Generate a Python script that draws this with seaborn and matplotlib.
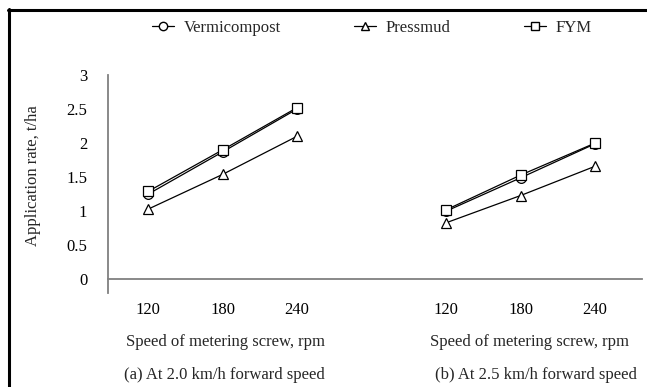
import matplotlib
matplotlib.use("Agg")
import matplotlib.pyplot as plt
import matplotlib.lines as mlines
import seaborn as sns
import pandas as pd

sns.set_theme(style="white")
plt.rcParams['font.family'] = ['Liberation Serif', 'DejaVu Serif']

speeds = ["120", "180", "240"]
materials = ["Vermicompost", "Pressmud", "FYM"]
# (a) 2.0 km/h
verm_a = [1.25, 1.87, 2.50]
press_a = [1.03, 1.54, 2.10]
fym_a = [1.29, 1.90, 2.52]
# (b) 2.5 km/h
verm_b = [1.00, 1.49, 1.99]
press_b = [0.83, 1.23, 1.66]
fym_b = [1.02, 1.53, 2.00]

xlabel = "Speed of metering screw, rpm"
captions = ["(a) At 2.0 km/h forward speed", "(b) At 2.5 km/h forward speed"]
ylabel = "Application rate, t/ha"

rows = []
groups = {"a": [verm_a, press_a, fym_a], "b": [verm_b, press_b, fym_b]}
offsets = {"a": 0, "b": 4}
for g, series in groups.items():
    for m, vals in zip(materials, series):
        for i, v in enumerate(vals):
            rows.append({"pos": offsets[g] + i, "rate": v, "material": m, "group": g})
df = pd.DataFrame(rows)

fig = plt.figure(figsize=(6.47, 3.87), dpi=100)
ax = fig.add_axes([108/647, (387-293)/387, (642-108)/647, (293-75)/387])

markers = {"Vermicompost": "o", "Pressmud": "^", "FYM": "s"}
sns.lineplot(data=df, x="pos", y="rate", hue="material", style="material",
             units="group", estimator=None, markers=markers, dashes=False,
             palette={m: "black" for m in materials}, ax=ax,
             linewidth=0.9, markersize=7, markerfacecolor="white",
             markeredgecolor="black", markeredgewidth=0.9, legend=False)

ax.set_xlim(-40/74.5, 6 + 47/74.5)
ax.set_ylim(-0.2, 3)
ax.set_yticks([0, 0.5, 1, 1.5, 2, 2.5, 3])
ax.set_yticklabels(["0", "0.5", "1", "1.5", "2", "2.5", "3"])
ax.set_xticks([0, 1, 2, 4, 5, 6])
ax.set_xticklabels(speeds + speeds)
ax.set_xlabel("")
ax.set_ylabel("")
for s in ["top", "right"]:
    ax.spines[s].set_visible(False)
ax.spines["bottom"].set_position(("data", 0))
for s in ["left", "bottom"]:
    ax.spines[s].set_color("#808080")
    ax.spines[s].set_linewidth(1.3)
ax.tick_params(axis="both", which="both", direction="out", length=4,
               width=1.0, color="black", labelsize=12, labelcolor="black")
ax.tick_params(axis="x", pad=12)
ax.tick_params(axis="y", pad=11)
ax.grid(False)
ax.set_facecolor("white")

fig.text(33/647, 1 - 176/387, ylabel, rotation=90, ha="center", va="center", fontsize=12)
fig.text(225/647, 1 - 342/387, xlabel, ha="center", va="center", fontsize=12)
fig.text(530/647, 1 - 342/387, xlabel, ha="center", va="center", fontsize=12)
fig.text(224/647, 1 - 375/387, captions[0], ha="center", va="center", fontsize=12)
fig.text(536/647, 1 - 375/387, captions[1], ha="center", va="center", fontsize=12)

handles = [mlines.Line2D([], [], color="black", lw=0.9, marker=markers[m], markersize=6,
                         markerfacecolor="white", markeredgecolor="black", label=m)
           for m in materials]
fig.legend(handles=handles, loc="center", bbox_to_anchor=(372/647, 1 - 28/387), ncol=3,
           frameon=False, fontsize=12, handlelength=1.3, handletextpad=0.6,
           columnspacing=4.4)

fig.add_artist(mlines.Line2D([9/647, 9/647], [0, 1 - 9/387], transform=fig.transFigure,
                             color="black", lw=2.2))
fig.add_artist(mlines.Line2D([8/647, 1], [1 - 10/387, 1 - 10/387], transform=fig.transFigure,
                             color="black", lw=2.2))

fig.savefig("out.png", dpi=100, facecolor="white")
